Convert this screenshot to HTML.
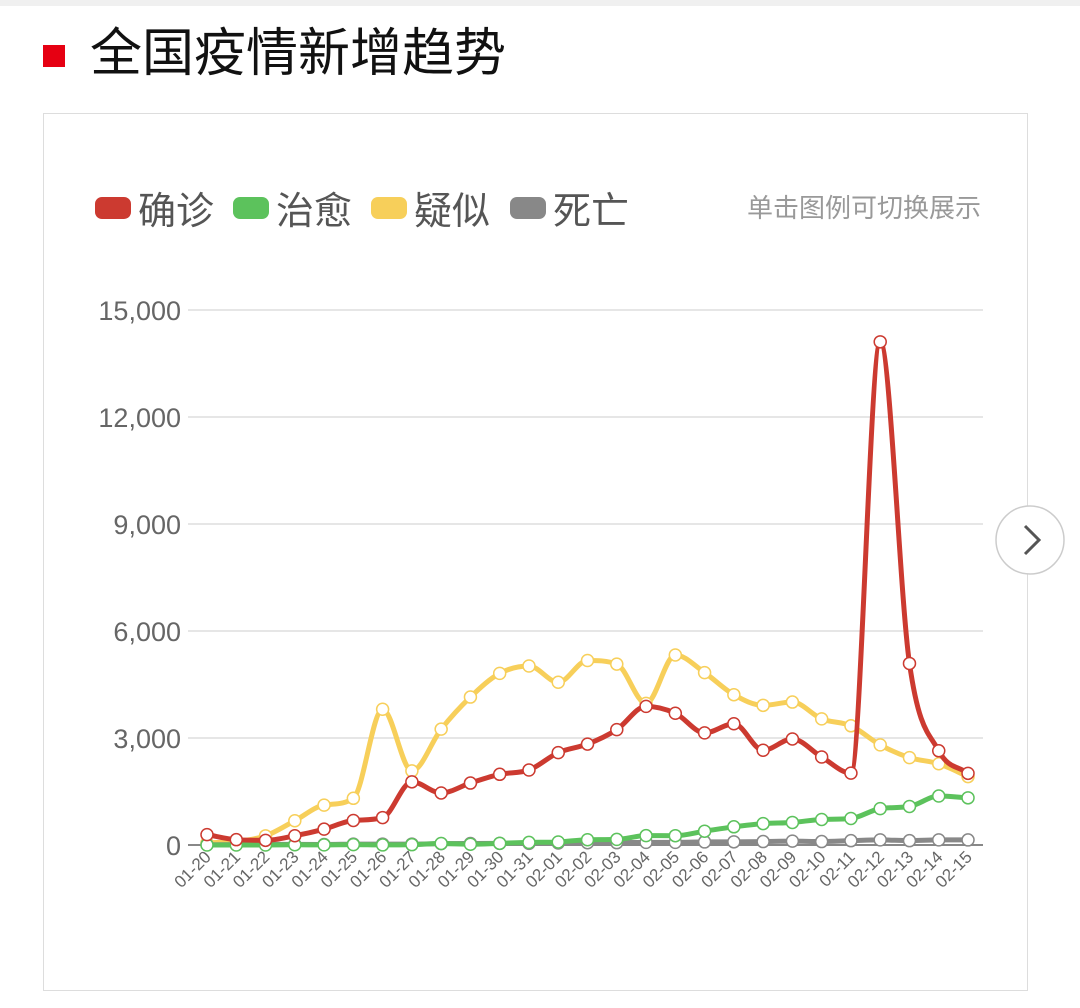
<!DOCTYPE html><html><head><meta charset="utf-8"><style>
body{margin:0;width:1080px;height:1008px;background:#fff;position:relative;overflow:hidden;font-family:"Liberation Sans","Noto Sans CJK SC",sans-serif}
.top{position:absolute;left:0;top:0;width:1080px;height:6px;background:#f0f0f0}
.sq{position:absolute;left:43px;top:45px;width:22px;height:22px;background:#e60012}
.title{position:absolute;left:90px;top:21px;font-size:52px;color:#111;line-height:66px}
.card{position:absolute;left:43px;top:113px;width:983px;height:876px;border:1px solid #ddd;background:#fff}
</style></head><body>
<div class="top"></div><div class="sq"></div><div class="title">全国疫情新增趋势</div>
<div class="card"></div>
<svg style="position:absolute;left:0;top:0" width="1080" height="1008" id="s">
<g font-family="Liberation Sans, Noto Sans CJK SC, sans-serif">
<rect x="95" y="197" width="36" height="22" rx="7" fill="#cc3a30"/><text x="138" y="224" font-size="38" fill="#555">确诊</text>
<rect x="233" y="197" width="36" height="22" rx="7" fill="#5cc25c"/><text x="276" y="224" font-size="38" fill="#555">治愈</text>
<rect x="371" y="197" width="36" height="22" rx="7" fill="#f7cf5a"/><text x="414" y="224" font-size="38" fill="#555">疑似</text>
<rect x="510" y="197" width="36" height="22" rx="7" fill="#888"/><text x="553" y="224" font-size="38" fill="#555">死亡</text>
<text x="981" y="217" font-size="26" fill="#999" text-anchor="end">单击图例可切换展示</text>
</g>
<g id="g"></g>
<circle cx="1030" cy="540" r="34" fill="#fff" stroke="#ccc" stroke-width="1.5"/>
<path d="M1025 526 L1039 540 L1025 554" fill="none" stroke="#555" stroke-width="3"/>
</svg>
<script>
var g=document.getElementById('g'),h='';
function Y(v){return 845-v*535/15000}function X(i){return 207+i*29.27}
[0,3000,6000,9000,12000,15000].forEach(function(v){var y=Y(v);
h+='<line x1="188" x2="983" y1="'+y+'" y2="'+y+'" stroke="'+(v?'#ddd':'#888')+'" stroke-width="'+(v?1.5:2)+'"/>';
h+='<text x="181" y="'+(y+10)+'" font-size="27" fill="#666" text-anchor="end" font-family="Liberation Sans,sans-serif">'+v.toLocaleString('en-US')+'</text>';});
var d=[];for(var i=0;i<27;i++){var day=i<12?20+i:i-11;d.push((i<12?'01-':'02-')+(day<10?'0'+day:day));}
d.forEach(function(t,i){h+='<text transform="translate('+(X(i)+5)+',858) rotate(-45)" font-size="17" fill="#666" text-anchor="end" font-family="Liberation Sans,sans-serif">'+t+'</text>';});
var S=[
['#f7cf5a',[60,100,257,680,1118,1309,3806,2077,3248,4148,4812,5019,4562,5173,5072,3971,5328,4833,4214,3916,4008,3536,3342,2807,2450,2277,1918]],
['#888',[6,9,17,16,15,24,26,26,38,43,46,45,57,64,65,73,73,86,89,97,108,97,121,143,121,143,142]],
['#5cc25c',[0,0,0,6,3,11,2,9,43,21,47,72,85,147,157,262,261,387,510,600,632,716,744,1020,1081,1373,1323]],
['#cc3a30',[291,149,131,259,444,688,769,1771,1459,1737,1982,2102,2590,2829,3235,3887,3694,3143,3399,2656,2973,2467,2015,14108,5090,2641,2009]]];
S.forEach(function(s){var p=s[1].map(function(v,i){return[X(i),Y(v)]});var n=p.length,dx=29.27;
var del=[],m=[];for(var i=0;i<n-1;i++)del.push((p[i+1][1]-p[i][1])/dx);
for(var i=0;i<n;i++){if(i==0)m.push(del[0]);else if(i==n-1)m.push(del[n-2]);else m.push(del[i-1]*del[i]<=0?0:(del[i-1]+del[i])/2);}
for(var i=0;i<n-1;i++){if(del[i]==0){m[i]=m[i+1]=0;continue;}var a=m[i]/del[i],b=m[i+1]/del[i],t=a*a+b*b;if(t>9){t=3/Math.sqrt(t);m[i]=t*a*del[i];m[i+1]=t*b*del[i];}}
var path='M'+p[0];
for(var i=0;i<n-1;i++){var b=p[i],c=p[i+1];path+='C'+[b[0]+dx/3,b[1]+m[i]*dx/3]+' '+[c[0]-dx/3,c[1]-m[i+1]*dx/3]+' '+c;}
h+='<path d="'+path+'" fill="none" stroke="'+s[0]+'" stroke-width="5"/>';
p.forEach(function(q){h+='<circle cx="'+q[0]+'" cy="'+q[1]+'" r="6" fill="#fff" stroke="'+s[0]+'" stroke-width="1.5"/>';});});
g.innerHTML=h;
</script>
</body></html>
